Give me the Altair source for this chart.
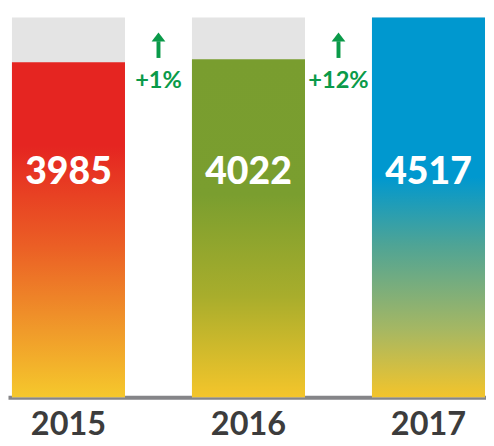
import altair as alt
import pandas as pd

years = ["2015", "2016", "2017"]
values = [3985, 4022, 4517]
changes = ["", "+1%", "+12%"]

gradient_stops = {
    "2015": [("#E52521", 0.0), ("#E52521", 0.25), ("#EB5F25", 0.55), ("#F09A2A", 0.8), ("#F5C82C", 1.0)],
    "2016": [("#799D2F", 0.0), ("#7A9E2F", 0.4), ("#A8AD2C", 0.7), ("#F4C52B", 1.0)],
    "2017": [("#0098CF", 0.0), ("#0098CF", 0.42), ("#4FA495", 0.6), ("#A5B763", 0.82), ("#F3C42B", 1.0)],
}

GREEN = "#0A9A49"

df = pd.DataFrame({"year": years, "value": values, "change": changes})

xenc = alt.X(
    "year:N",
    scale=alt.Scale(domain=years, paddingInner=0.372, paddingOuter=0.0137, align=0.8),
    axis=alt.Axis(
        title=None, ticks=False, labelAngle=0, domainColor="#858588", domainWidth=4,
        labelFont="Lato", labelFontSize=33, labelFontWeight="bold", labelColor="#3C3C3C",
        labelBaseline="alphabetic", labelPadding=38,
    ),
)
yscale = alt.Scale(domain=[0, max(values)], nice=False, zero=True)

base = alt.Chart(df)

background = base.transform_joinaggregate(maxv="max(value)").mark_bar(color="#E4E4E4").encode(
    x=xenc, y=alt.Y("maxv:Q", scale=yscale, axis=None)
)

layers = [background]
for yr in years:
    grad = alt.Gradient(
        gradient="linear", x1=0, y1=0, x2=0, y2=1,
        stops=[alt.GradientStop(color=c, offset=o) for c, o in gradient_stops[yr]],
    )
    layers.append(
        base.transform_filter(alt.datum.year == yr).mark_bar(color=grad).encode(
            x=xenc, y=alt.Y("value:Q", scale=yscale, axis=None)
        )
    )

labels = base.mark_text(font="Lato", fontWeight=900, fontSize=38, color="white", baseline="middle").encode(
    x=xenc, y=alt.value(158), text="value:Q"
)

chg = base.transform_filter(alt.datum.change != "")

pct = chg.mark_text(font="Lato", fontWeight="bold", fontSize=24, color=GREEN, baseline="middle", dx=-91.5).encode(
    x=xenc, y=alt.value(65), text="change:N"
)
shaft = chg.mark_rule(xOffset=-91.5, strokeWidth=4, color=GREEN).encode(
    x=xenc, y=alt.value(24), y2=alt.value(41)
)
head = chg.mark_point(
    shape="M-1,0.6L0,-0.7L1,0.6Z", filled=True, size=196, xOffset=-91.5, color=GREEN, opacity=1
).encode(x=xenc, y=alt.value(20))

layers += [labels, pct, shaft, head]

chart = alt.layer(*layers).properties(
    width=486, height=386, autosize="none",
    padding={"left": 0, "top": 6, "right": 0, "bottom": 60},
).configure_view(stroke=None)

chart.save("out.html", embed_options={"renderer": "svg", "actions": False})
